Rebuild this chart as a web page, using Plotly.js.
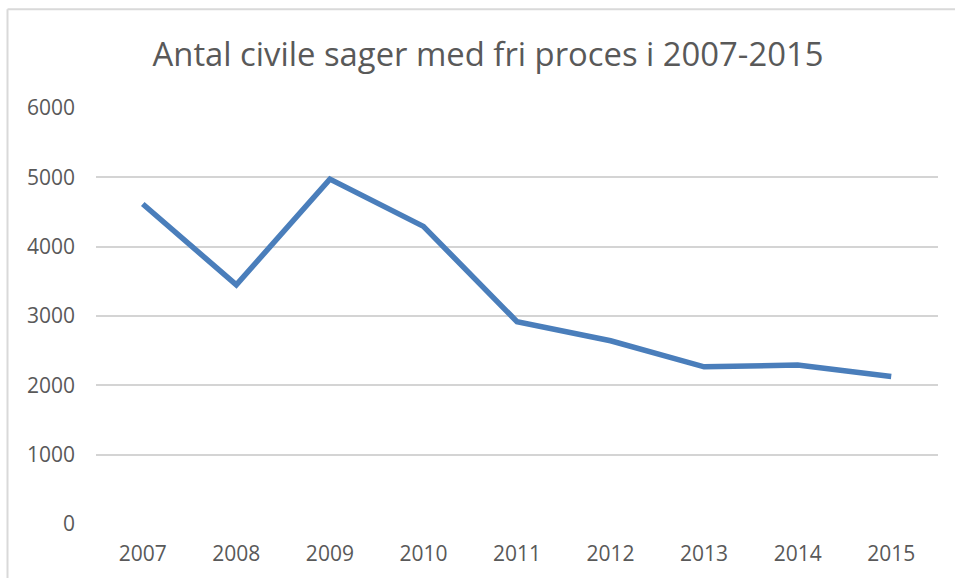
<!DOCTYPE html>
<html>
<head>
<meta charset="utf-8">
<script src="https://cdn.plot.ly/plotly-3.0.1.min.js"></script>
<style>html,body{margin:0;padding:0;background:#fff;}#chart{width:955px;height:578px;}</style>
</head>
<body>
<div id="chart"></div>
<script>
const years = ['2007','2008','2009','2010','2011','2012','2013','2014','2015'];
const cases = [4615, 3449, 4975, 4292, 2918, 2643, 2267, 2292, 2128];
const yTicks = [0, 1000, 2000, 3000, 4000, 5000, 6000];
const titleText = 'Antal civile sager med fri proces i 2007-2015';

const trace = {
  x: years, y: cases, type: 'scatter', mode: 'lines',
  line: {color: '#4a7ebb', width: 5.5, shape: 'linear'},
  hoverinfo: 'x+y'
};

const fontFam = 'Open Sans, DejaVu Sans, sans-serif';
const layout = {
  width: 955, height: 578,
  margin: {l: 96, r: 17, t: 108, b: 54, pad: 0},
  paper_bgcolor: '#ffffff', plot_bgcolor: '#ffffff',
  showlegend: false,
  title: {text: titleText, font: {family: fontFam, size: 32.8, color: '#595959'},
          x: 0.511, xanchor: 'center', y: 0.905, yanchor: 'middle', yref: 'container'},
  xaxis: {type: 'category', range: [-0.5, 8.5], showgrid: false, zeroline: false,
          showline: false, ticks: '', tickfont: {family: fontFam, size: 21, color: '#595959'},
          ticklabelstandoff: 15},
  yaxis: {range: [0, 6000], tickvals: yTicks, ticktext: yTicks.map(String), showgrid: true,
          gridcolor: '#d4d4d4', gridwidth: 2, zeroline: false, showline: false, ticks: '',
          tickfont: {family: fontFam, size: 21, color: '#595959'}, ticklabelstandoff: 20},
  shapes: [
    {type: 'line', xref: 'paper', yref: 'paper', x0: -0.1051, x1: 1.05, y0: 1.2376, y1: 1.2376,
     line: {color: '#d9d9d9', width: 2}},
    {type: 'line', xref: 'paper', yref: 'paper', x0: -0.1051, x1: -0.1051, y0: 1.2376, y1: -0.2,
     line: {color: '#d9d9d9', width: 2}}
  ]
};
Plotly.newPlot('chart', [trace], layout, {displayModeBar: false, staticPlot: true});
</script>
</body>
</html>
